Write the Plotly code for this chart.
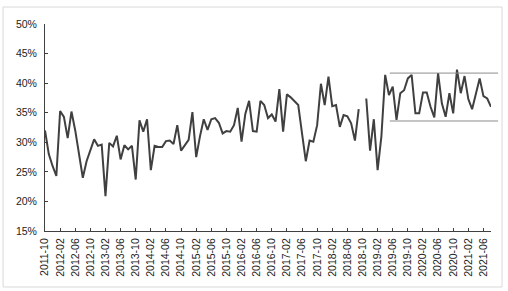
import pandas as pd
import plotly.graph_objects as go

months = [p.strftime("%Y-%m") for p in pd.period_range("2011-10", "2021-08", freq="M")]

values = [
    32.0, 28.0, 26.0, 24.3, 35.3, 34.3, 30.7, 35.2, 32.0, 28.0,
    24.0, 26.8, 28.8, 30.5, 29.4, 29.6, 20.9, 29.9, 29.3, 31.1,
    27.1, 29.5, 28.8, 29.4, 23.7, 33.7, 31.8, 33.9, 25.3, 29.4,
    29.2, 29.2, 30.2, 30.3, 29.7, 32.9, 28.6, 29.4, 30.4, 35.1,
    27.5, 31.0, 33.9, 32.1, 33.9, 34.1, 33.3, 31.5, 31.9, 31.8,
    32.9, 35.8, 30.1, 34.8, 37.0, 31.9, 31.8, 37.0, 36.3, 34.1,
    34.7, 33.5, 39.0, 31.8, 38.1, 37.6, 37.0, 36.3, 31.5, 26.8,
    30.3, 30.1, 32.9, 39.9, 36.3, 41.1, 36.1, 36.3, 32.6, 34.6,
    34.4, 33.2, 30.3, 35.6, None, 37.4, 28.6, 33.9, 25.3, 31.0,
    41.4, 38.0, 39.4, 33.8, 38.3, 38.8, 40.8, 41.4, 34.9, 34.9,
    38.4, 38.4, 36.0, 34.2, 41.7, 36.6, 34.3, 38.3, 34.9, 42.3,
    38.3, 41.2, 37.3, 35.6, 38.3, 40.8, 37.8, 37.4, 36.0,
]

tick_labels = [
    "2011-10", "2012-02", "2012-06", "2012-10", "2013-02", "2013-06", "2013-10",
    "2014-02", "2014-06", "2014-10", "2015-02", "2015-06", "2015-10", "2016-02",
    "2016-06", "2016-10", "2017-02", "2017-06", "2017-10", "2018-02", "2018-06",
    "2018-10", "2019-02", "2019-06", "2019-10", "2020-02", "2020-06", "2020-10",
    "2021-02", "2021-06",
]

y_ticks = [15, 20, 25, 30, 35, 40, 45, 50]
band_levels = [41.7, 33.6]

axis_color = "#404040"
font = dict(family="Liberation Sans, Arial, sans-serif", size=10.5, color="#222222")

fig = go.Figure()
fig.add_trace(go.Scatter(
    x=months, y=values, mode="lines",
    line=dict(color="#404040", width=2),
    connectgaps=False, showlegend=False,
))

shapes = []
for lv in band_levels:
    shapes.append(dict(type="line", xref="paper", yref="y", x0=0.773, x1=1.016,
                       y0=lv, y1=lv, line=dict(color="#8c8c8c", width=1)))
shapes.append(dict(type="rect", xref="paper", yref="paper", x0=-0.094, x1=1.0247,
                   y0=-0.2705, y1=1.082, line=dict(color="#d9d9d9", width=1)))

fig.update_layout(
    width=508, height=291,
    margin=dict(l=45, r=17, t=24, b=60),
    paper_bgcolor="white", plot_bgcolor="white",
    font=font,
    shapes=shapes,
    xaxis=dict(
        type="category", range=[0, len(months) - 1],
        tickmode="array", tickvals=tick_labels, ticktext=tick_labels,
        tickangle=-90, ticks="inside", ticklen=3, tickcolor=axis_color,
        ticklabelstandoff=2,
        showline=True, linecolor=axis_color, linewidth=1,
        showgrid=False, zeroline=False,
    ),
    yaxis=dict(
        range=[15, 50], tickmode="array", tickvals=y_ticks,
        ticktext=[f"{v}%" for v in y_ticks],
        ticks="inside", ticklen=3, tickcolor=axis_color,
        ticklabelstandoff=5,
        showline=True, linecolor=axis_color, linewidth=1,
        showgrid=False, zeroline=False,
    ),
)

fig.write_html("out.html")
